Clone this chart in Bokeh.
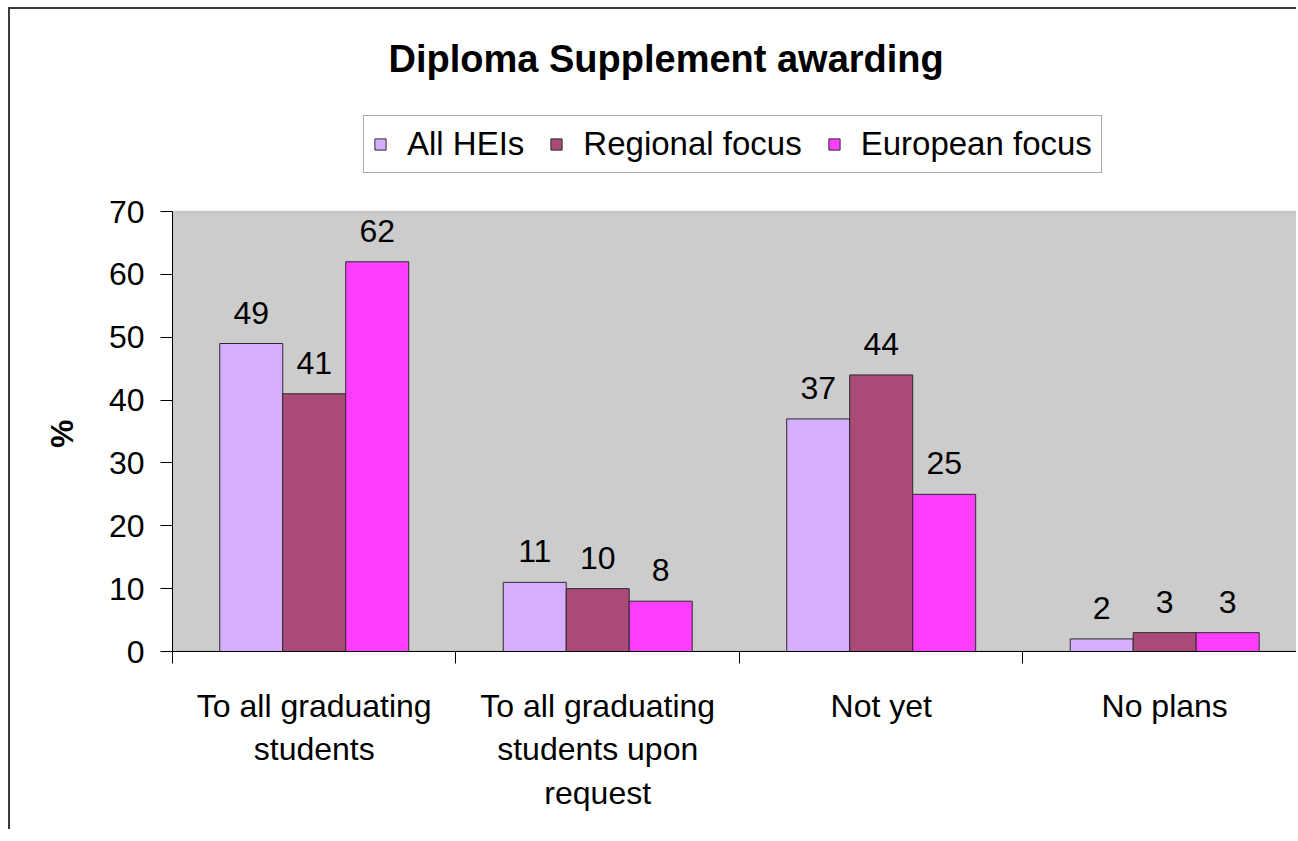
from bokeh.plotting import figure
from bokeh.models import (ColumnDataSource, FixedTicker, Legend,
                          LegendItem, Range1d, BoxAnnotation)
from bokeh.core.properties import value
from bokeh.embed import file_html
from bokeh.resources import INLINE

# ---- data -------------------------------------------------------------
categories = ["To all graduating\nstudents",
              "To all graduating\nstudents upon\nrequest",
              "Not yet",
              "No plans"]
series = ["All HEIs", "Regional focus", "European focus"]
all_heis = [49, 11, 37, 2]
regional_focus = [41, 10, 44, 3]
european_focus = [62, 8, 25, 3]
y_ticks = [0, 10, 20, 30, 40, 50, 60, 70]

values = [all_heis, regional_focus, european_focus]
colors = ["#D6AEFF", "#A94A78", "#FF3DFF"]

FONT = "Liberation Sans"
FS = "32px"

p = figure(width=1288, height=822,
           x_range=Range1d(0, 3.972), y_range=Range1d(0, 87.66),
           output_backend="svg", toolbar_location=None,
           min_border_left=162, min_border_right=0,
           min_border_top=91, min_border_bottom=180,
           background_fill_color="white", border_fill_color="white")
p.styles = {"margin-left": "8px", "margin-top": "7px",
            "border-top": "2px solid #3a3a3a", "border-left": "2px solid #3a3a3a"}
p.grid.visible = False
p.outline_line_color = None

# plot area background
p.add_layout(BoxAnnotation(bottom=0, top=70, fill_color="#CCCCCC", fill_alpha=1,
                           line_color="#808080", line_width=1.5, level="underlay"))

# bars
bar_w = 0.2222
renderers = []
for k, (name, vals, col) in enumerate(zip(series, values, colors)):
    xs = [i + 0.5 + (k - 1) * bar_w for i in range(len(categories))]
    src = ColumnDataSource(dict(x=xs, top=vals, lab=[str(v) for v in vals]))
    r = p.vbar(x="x", top="top", bottom=0, width=bar_w, source=src,
               fill_color=col, line_color="#2a2a2a", line_width=1)
    renderers.append(r)
    p.text(x="x", y="top", text="lab", source=src, text_align="center",
           text_baseline="alphabetic", y_offset=-31,
           text_font=value(FONT), text_font_size=FS, text_color="black")

# y axis
ya = p.yaxis[0]
ya.ticker = FixedTicker(ticks=y_ticks)
ya.bounds = (0, 70)
ya.major_tick_out = 12
ya.major_tick_in = 0
ya.minor_tick_line_color = None
ya.axis_line_color = "black"
ya.major_tick_line_color = "black"
ya.major_label_text_font = FONT
ya.major_label_text_font_size = FS
ya.major_label_text_color = "black"
ya.major_label_standoff = 16
# label centred on the grey plot area (0..70) rather than the whole frame
ya.axis_label = "%" + "\u00a0" * 13
ya.axis_label_text_font = FONT
ya.axis_label_text_font_size = FS
ya.axis_label_text_font_style = "bold"
ya.axis_label_text_color = "black"
ya.axis_label_standoff = 26

# x axis: labels at category centres, tick marks (minor) at category boundaries
xa = p.xaxis[0]
xa.ticker = FixedTicker(ticks=[i + 0.5 for i in range(len(categories))],
                        minor_ticks=[i for i in range(len(categories) + 1)])
xa.major_label_overrides = {i + 0.5: c for i, c in enumerate(categories)}
xa.major_tick_line_color = None
xa.major_tick_out = 0
xa.major_tick_in = 0
xa.minor_tick_line_color = "black"
xa.minor_tick_out = 12
xa.minor_tick_in = 0
xa.axis_line_color = "black"
xa.major_label_text_font = FONT
xa.major_label_text_font_size = FS
xa.major_label_text_color = "black"
xa.major_label_text_line_height = 1.22
xa.major_label_standoff = 24

# title
p.title.text = "Diploma Supplement awarding"
p.title.text_font = FONT
p.title.text_font_size = "38px"
p.title.text_font_style = "bold"
p.title.text_color = "black"
p.title.align = "left"
p.title.offset = 216
p.title.standoff = 41

# legend (inside the extended frame, above the grey plot area)
legend = Legend(items=[LegendItem(label=s, renderers=[r]) for s, r in zip(series, renderers)],
                orientation="horizontal", location=(191, 478))
legend.label_text_font = FONT
legend.label_text_font_size = "33px"
legend.label_text_color = "black"
legend.glyph_width = 14
legend.glyph_height = 14
legend.label_standoff = 20
legend.spacing = 25
legend.padding = 9
legend.margin = 0
legend.border_line_color = "#555555"
legend.border_line_width = 1
legend.background_fill_color = "white"
p.add_layout(legend, "center")

open("out.html", "w").write(file_html(p, INLINE))
